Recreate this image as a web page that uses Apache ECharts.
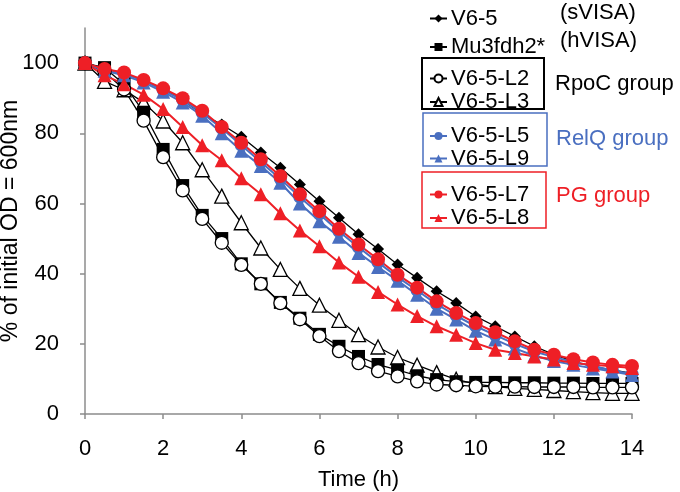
<!DOCTYPE html>
<html>
<head>
<meta charset="utf-8">
<script src="https://cdn.jsdelivr.net/npm/echarts@6/dist/echarts.min.js"></script>
<style>html,body{margin:0;padding:0;background:#fff}#c{width:680px;height:492px}</style>
</head>
<body>
<div id="c"></div>
<script>
// Time points (h)
const times = [0,0.5,1,1.5,2,2.5,3,3.5,4,4.5,5,5.5,6,6.5,7,7.5,8,8.5,9,9.5,10,10.5,11,11.5,12,12.5,13,13.5,14];
// % of initial OD600
const v65     = [100,98.5,97,95,92.5,89.5,85.5,82.5,79,74.5,70.2,65.4,60.6,55.9,51.2,47.0,42.6,38.8,35,31.6,27.8,25,22.1,19.3,16.9,15,13.5,12.6,11.6];
const mu3     = [100,98.7,94,86,75.4,65.1,56.6,50,42.8,37.1,31.8,27.3,22.7,19.3,16.4,14.1,12.6,10.9,9.8,9.2,9,9,8.9,8.9,8.8,8.8,8.7,8.7,8.7];
const l2      = [100,97.5,92.5,83.6,73.2,63.7,55.6,48.8,42.5,37.1,31.6,27,22.2,17.9,14.5,12.2,10.7,9.3,8.4,8.2,7.9,7.8,7.8,7.7,7.7,7.7,7.6,7.6,7.6];
const l3      = [100,94.8,92.4,88.8,83.5,77.3,69.6,62.1,54.5,47.3,41.2,35.8,31,26.7,22.6,19.1,16.1,13.9,11.8,9.9,8.5,7.8,7.3,7,6.7,6.4,6.1,5.9,5.9];
const l5      = [100,98,97,95,92.3,89.5,85.8,81.4,76.6,71.8,67,61.8,57,52,47.5,43.2,39,35.2,31.3,28,25,22.5,20,17.8,16.2,14.8,13.7,12.4,11.4];
const l9      = [100,97.8,96.5,94.5,91.8,88.8,85,80,75,70.7,65.9,60,54.9,50.5,45.9,41.9,38,34,30,26.9,23.7,21.2,18.7,16.6,15.1,14,13,12.1,11.1];
const l7      = [100,98.3,97.3,95.2,92.8,90,86.4,81.8,77.3,72.6,67.8,62.6,57.8,52.8,48.3,44.1,39.7,36,32.1,28.8,25.9,23.3,20.7,18.3,16.9,15.6,14.7,14,13.7];
const l8      = [100,96.5,94,91,86.9,81.8,76.6,72.3,67.2,62.6,57.2,52.3,47.8,43.2,39.1,34.8,31.2,27.9,25,22.6,20.2,18.3,17.4,16.4,15.5,14.5,14,13.6,13.1];
const yTicks = [0,20,40,60,80,100];
const xTicks = [0,2,4,6,8,10,12,14];

const FONT = "'Liberation Sans', Arial, sans-serif";
const RED = '#ee1f26', BLUE = '#4a6fc0', BLACK = '#000';
const pts = arr => times.map((t,i)=>[t,arr[i]]);

function ser(name, vals, symbol, size, lineColor, fill, border, lw){
  return {
    name, type:'line', data: pts(vals), symbol, symbolSize: size,
    lineStyle:{color:lineColor, width:lw},
    itemStyle:{color:fill, borderColor:border, borderWidth: fill==='#fff'?1.3:0, opacity:1},
    emphasis:{disabled:true}, animation:false, z:2
  };
}

const series = [
  ser('V6-5-L3', l3, 'triangle', 14, BLACK, '#fff', BLACK, 1.3),
  ser('Mu3fdh2*', mu3, 'rect', 13, BLACK, BLACK, BLACK, 1.3),
  ser('V6-5-L2', l2, 'circle', 13, BLACK, '#fff', BLACK, 1.3),
  ser('V6-5', v65, 'diamond', 12, BLACK, BLACK, BLACK, 1.3),
  ser('V6-5-L9', l9, 'triangle', 14, BLUE, BLUE, BLUE, 2),
  ser('V6-5-L5', l5, 'circle', 13, BLUE, BLUE, BLUE, 2),
  ser('V6-5-L8', l8, 'triangle', 14, RED, RED, RED, 2),
  ser('V6-5-L7', l7, 'circle', 14, RED, RED, RED, 2)
];

const legendRows = [
  ['V6-5', 12.5], ['Mu3fdh2*', 41], ['V6-5-L2', 72.5], ['V6-5-L3', 96],
  ['V6-5-L5', 130], ['V6-5-L9', 152.5], ['V6-5-L7', 188.5], ['V6-5-L8', 212]
];
const legends = legendRows.map(([n, cy]) => ({
  data:[n], left: 429, top: cy - 5, orient:'vertical', padding:0, itemGap:0,
  itemWidth:17, itemHeight:10, selectedMode:false,
  textStyle:{fontSize:22, color:'#000', fontFamily:FONT, padding:[0,0,0,-1]}
}));

const txt = (text, x, y, color) => ({
  type:'text', x, y, silent:true,
  style:{text, fill:color, font:'22px ' + FONT, verticalAlign:'middle', align:'left'}
});
const box = (x, y, w, h, color, lw) => ({
  type:'rect', shape:{x, y, width:w, height:h}, silent:true,
  style:{fill:'none', stroke:color, lineWidth:lw}
});

const chart = echarts.init(document.getElementById('c'), null, {renderer:'canvas'});
chart.setOption({
  backgroundColor:'#fff',
  animation:false,
  textStyle:{fontFamily:FONT},
  grid:{left:85, right:48, top:28, bottom:78, containLabel:false, outerBoundsMode:'none'},
  xAxis:{
    type:'value', min:0, max:14, interval:2,
    axisLine:{lineStyle:{color:'#8c8c8c', width:1.5}},
    axisTick:{show:true, length:5, lineStyle:{color:'#8c8c8c', width:1.5}},
    splitLine:{show:false},
    axisLabel:{fontSize:22, color:'#000', margin:24, fontFamily:FONT, customValues:xTicks},
    name:'Time (h)', nameLocation:'middle', nameGap:55, nameMoveOverlap:false,
    nameTextStyle:{fontSize:22, color:'#000', fontFamily:FONT}
  },
  yAxis:{
    type:'value', min:0, max:110, interval:20,
    axisLine:{show:true, lineStyle:{color:'#8c8c8c', width:1.5}},
    axisTick:{show:true, length:5, lineStyle:{color:'#8c8c8c', width:1.5}, customValues:yTicks},
    splitLine:{show:false},
    axisLabel:{fontSize:22, color:'#000', margin:26, fontFamily:FONT, customValues:yTicks},
    name:'% of initial OD = 600nm', nameLocation:'middle', nameGap:63, nameRotate:90, nameMoveOverlap:false,
    nameTextStyle:{fontSize:23, color:'#000', fontFamily:FONT}
  },
  legend: legends,
  graphic:[
    box(422, 58, 122, 51, '#000', 2),
    box(423, 113, 124, 53, BLUE, 1.5),
    box(422, 172, 124, 56, RED, 1.5),
    txt('(sVISA)', 560, 12.5, '#000'),
    txt('(hVISA)', 560, 41, '#000'),
    txt('RpoC group', 555, 84, '#000'),
    txt('RelQ group', 556, 139, BLUE),
    txt('PG group', 556, 196, RED)
  ],
  series
});
</script>
</body>
</html>
